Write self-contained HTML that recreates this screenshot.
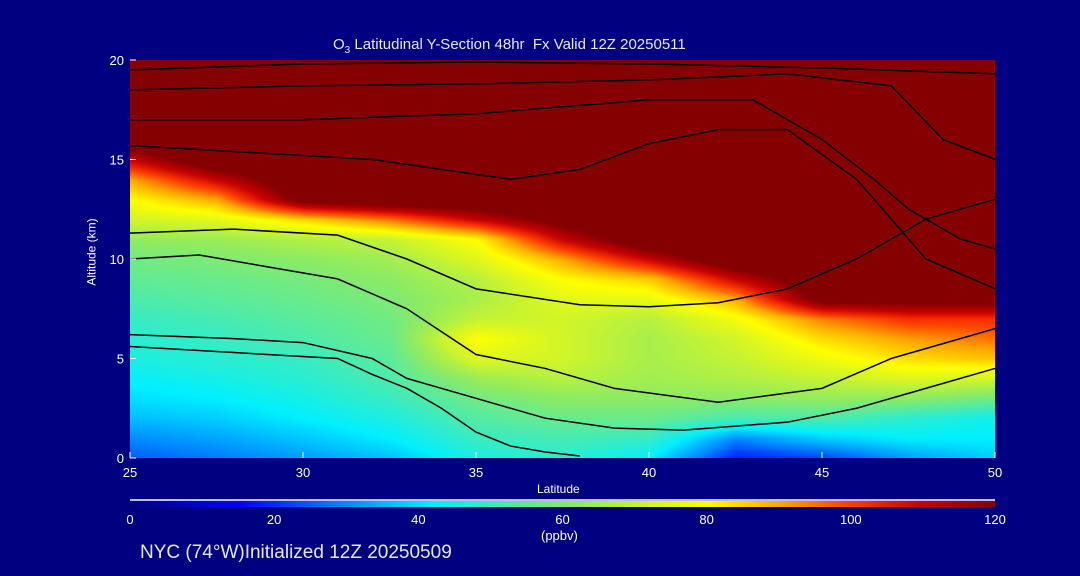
<!DOCTYPE html>
<html><head><meta charset="utf-8"><style>
html,body{margin:0;padding:0;background:#000080;}
#wrap{position:relative;width:1080px;height:576px;background:#000080;overflow:hidden;font-family:"Liberation Sans",sans-serif;color:#fff;}
.t{position:absolute;white-space:nowrap;font-size:13px;}
canvas{position:absolute;}
svg{position:absolute;left:0;top:0;}
</style></head><body>
<div id="wrap">
<canvas id="field" width="865" height="398" style="left:130px;top:60px"></canvas>
<canvas id="cbar" width="865" height="6" style="left:130px;top:501px"></canvas>
<svg id="ov" width="1080" height="576"></svg>
<div class="t" style="left:333px;top:36px;font-size:15px;color:#e8e8e8">O<sub style="font-size:10px">3</sub> Latitudinal Y-Section 48hr&nbsp; Fx Valid 12Z 20250511</div>
<div class="t" style="left:58px;top:245px;transform:rotate(-90deg);transform-origin:center;font-size:12px">Altitude (km)</div>
<div class="t" style="left:537px;top:482px;font-size:12px">Latitude</div>
<div class="t" style="left:541px;top:528px;font-size:13px">(ppbv)</div>
<div class="t" style="left:140px;top:542px;font-size:19px;color:#e8e8e8">NYC (74°W)Initialized 12Z 20250509</div>
</div>
<script>
const lats=[25,27.5,30,32.5,35,37.5,40,42.5,45,47.5,50];
const alts=[0,1,2,3,4,5,6,7,8,9,10,11,12,13,14,15,16,17,18,19,20];
const o3=[
[25,28,32,36,46,48,42,18,22,32,38],
[30,33,37,42,50,52,50,30,38,42,42],
[36,38,42,46,54,57,57,52,53,48,44],
[40,42,45,50,58,62,62,62,63,62,58],
[43,45,48,53,64,68,65,67,70,74,72],
[46,48,50,55,74,72,66,70,77,84,87],
[48,50,53,57,80,72,66,72,84,91,95],
[50,52,55,58,70,72,68,78,94,102,102],
[53,55,57,60,66,75,76,90,125,125,125],
[56,57,59,62,68,80,86,110,130,130,130],
[58,60,62,65,74,90,110,130,130,130,130],
[63,64,67,70,80,110,130,130,130,130,130],
[72,75,85,95,110,125,130,130,130,130,130],
[80,90,125,130,130,130,130,130,130,130,130],
[90,110,130,130,130,130,130,130,130,130,130],
[110,130,130,130,130,130,130,130,130,130,130],
[130,130,130,130,130,130,130,130,130,130,130],
[130,130,130,130,130,130,130,130,130,130,130],
[130,130,130,130,130,130,130,130,130,130,130],
[130,130,130,130,130,130,130,130,130,130,130],
[130,130,130,130,130,130,130,130,130,130,130]];
const xTicks=[25,30,35,40,45,50];
const yTicks=[0,5,10,15,20];
const cbTicks=[0,20,40,60,80,100,120];
const contours=[
{label:"0",pts:[[25,5.6],[28,5.3],[31,5.0],[32,4.2],[33,3.5],[34,2.5],[35,1.3],[36,0.6],[37,0.3],[38,0.1]]},
{label:"10",pts:[[25,6.2],[28,6.0],[30,5.8],[32,5],[33,4],[35,3],[37,2],[39,1.5],[41,1.4],[44,1.8],[46,2.5],[48,3.5],[50,4.5]]},
{label:"20",pts:[[25,10],[27,10.2],[29,9.6],[31,9],[33,7.5],[35,5.2],[37,4.5],[39,3.5],[42,2.8],[45,3.5],[47,5],[50,6.5]]},
{label:"30",pts:[[25,11.3],[28,11.5],[31,11.2],[33,10],[35,8.5],[38,7.7],[40,7.6],[42,7.8],[44,8.5],[46,10],[48,12],[50,13]]},
{label:"30",pts:[[25,15.7],[28,15.4],[30,15.2],[32,15],[34,14.5],[36,14],[38,14.5],[40,15.8],[42,16.5],[44,16.5],[46,14],[47,12],[48,10],[50,8.5]]},
{label:"20",pts:[[25,17],[30,17],[35,17.3],[40,18],[43,18],[45,16],[46.5,14],[47.5,12.5],[49,11],[50,10.5]]},
{label:"10",pts:[[25,18.5],[30,18.7],[35,18.8],[40,19],[44,19.3],[47,18.7],[48.5,16],[50,15]]},
{label:"0",pts:[[25,19.5],[30,19.8],[35,19.9],[40,19.8],[45,19.6],[50,19.3]]}
];
const X0=130,X1=995,Y0=458,Y1=60;
const xs=v=>X0+(v-25)/(50-25)*(X1-X0);
const ys=v=>Y0-(v-0)/20*(Y0-Y1);
const stops=[[0,[0,0,130]],[15,[0,0,255]],[30,[0,140,255]],[42,[0,240,255]],[52,[70,235,180]],[62,[140,235,100]],[72,[210,245,40]],[80,[255,255,0]],[90,[255,170,0]],[100,[255,60,0]],[110,[200,0,0]],[120,[133,0,0]]];
function cmap(v){if(v<=0)return stops[0][1];if(v>=120)return stops[stops.length-1][1];
for(let i=1;i<stops.length;i++){if(v<=stops[i][0]){const a=stops[i-1],b=stops[i],f=(v-a[0])/(b[0]-a[0]);return a[1].map((c,k)=>c+(b[1][k]-c)*f);}}}
function sample(lat,alt){let fi=(lat-25)/2.5,fj=alt;fi=Math.max(0,Math.min(lats.length-1.0001,fi));fj=Math.max(0,Math.min(alts.length-1.0001,fj));
const i=Math.floor(fi),j=Math.floor(fj),u=fi-i,w=fj-j;
return o3[j][i]*(1-u)*(1-w)+o3[j][i+1]*u*(1-w)+o3[j+1][i]*(1-u)*w+o3[j+1][i+1]*u*w;}
const fc=document.getElementById('field'),ctx=fc.getContext('2d'),img=ctx.createImageData(865,398);
for(let py=0;py<398;py++)for(let px=0;px<865;px++){const lat=25+px/865*25,alt=20-py/398*20;const c=cmap(sample(lat,alt));const k=(py*865+px)*4;img.data[k]=c[0];img.data[k+1]=c[1];img.data[k+2]=c[2];img.data[k+3]=255;}
ctx.putImageData(img,0,0);
const cc=document.getElementById('cbar').getContext('2d');
for(let px=0;px<865;px++){const c=cmap(px/865*120);cc.fillStyle=`rgb(${c[0]|0},${c[1]|0},${c[2]|0})`;cc.fillRect(px,0,1,6);}
const NS='http://www.w3.org/2000/svg',ov=document.getElementById('ov');
function mk(tag,attrs){const e=document.createElementNS(NS,tag);for(const k in attrs)e.setAttribute(k,attrs[k]);ov.appendChild(e);return e;}
contours.forEach(c=>{const p=mk('polyline',{points:c.pts.map(q=>xs(q[0])+','+ys(q[1])).join(' '),fill:'none',stroke:'#000','stroke-width':1.5});

});
const cl=mk('line',{x1:130,x2:995,y1:500,y2:500,stroke:'#fff','stroke-width':1.5});


function txt(s,x,y,anchor,name){const t=mk('text',{x:x,y:y,'text-anchor':anchor,fill:'#fff','font-size':13,'font-family':'Liberation Sans, sans-serif'});t.textContent=s;

}
xTicks.forEach(v=>{txt(String(v),xs(v),477,'middle','x-tick-label');
const tk=mk('line',{x1:xs(v),x2:xs(v),y1:Y0,y2:Y0-6,stroke:'#fff'});

});
yTicks.forEach(v=>{txt(String(v),124,ys(v)+5,'end','y-tick-label');
const tk=mk('line',{x1:X0,x2:X0+6,y1:ys(v),y2:ys(v),stroke:'#fff'});

});
cbTicks.forEach(v=>{txt(String(v),130+v/120*865,524,'middle','colorbar-tick-label');});
</script>
</body></html>
